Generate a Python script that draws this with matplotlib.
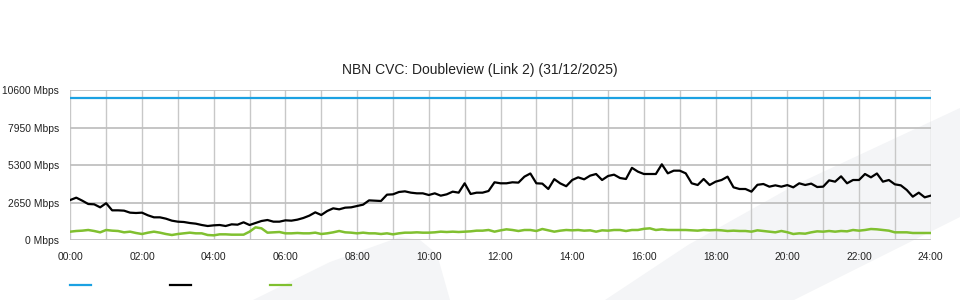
#!/usr/bin/env python3
"""NBN CVC 带宽图 — Doubleview (Link 2)"""
import numpy as np
import matplotlib
matplotlib.use("Agg")
import matplotlib.pyplot as plt
from matplotlib.patches import Polygon
from matplotlib.lines import Line2D

plt.rcParams['font.family'] = ['Liberation Sans', 'DejaVu Sans']

title = "NBN CVC: Doubleview (Link 2) (31/12/2025)"

# 10 分钟一个点, 00:00 → 24:00 (Mbps)
traffic = [
    2827, 2992, 2780, 2544, 2521, 2308, 2600, 2096, 2096, 2073, 1932, 1908,  # 00-02
    1932, 1743, 1602, 1602, 1508, 1366, 1295, 1272, 1201, 1154, 1060, 989,   # 02-04
    1036, 1060, 989, 1107, 1083, 1250, 1060, 1201, 1343, 1413, 1295, 1295,   # 04-06
    1390, 1366, 1437, 1555, 1720, 1955, 1767, 2049, 2238, 2167, 2285, 2308,  # 06-08
    2400, 2497, 2800, 2780, 2756, 3204, 3227, 3392, 3439, 3345, 3298, 3298,  # 08-10
    3180, 3298, 3133, 3227, 3416, 3345, 4007, 3251, 3345, 3345, 3463, 4078,  # 10-12
    4007, 4007, 4078, 4054, 4476, 4700, 4007, 3984, 3604, 4300, 4000, 3800,  # 12-14
    4240, 4428, 4287, 4547, 4664, 4240, 4523, 4617, 4381, 4311, 5100, 4830,  # 14-16
    4664, 4664, 4664, 5350, 4711, 4900, 4900, 4711, 4007, 3887, 4311, 3887,  # 16-18
    4122, 4240, 4476, 3722, 3604, 3604, 3416, 3900, 3957, 3769, 3863, 3769,  # 18-20
    3880, 3722, 4007, 3887, 3984, 3745, 3769, 4217, 4122, 4499, 4007, 4240,  # 20-22
    4240, 4664, 4428, 4700, 4122, 4240, 3934, 3863, 3533, 3062, 3345, 3015,  # 22-24
    3133,
]

traffic_2 = [
    589, 636, 660, 707, 636, 542, 707, 660, 636, 542, 589, 495,
    424, 518, 589, 518, 424, 353, 424, 471, 518, 471, 471, 353,
    330, 400, 400, 377, 377, 377, 589, 895, 824, 518, 542, 565,
    471, 471, 495, 471, 471, 518, 424, 471, 542, 636, 542, 518,
    471, 518, 471, 471, 424, 471, 400, 471, 518, 518, 542, 518,
    518, 542, 589, 565, 589, 565, 589, 612, 660, 660, 707, 589,
    680, 754, 707, 636, 707, 707, 636, 777, 683, 589, 660, 707,
    683, 707, 660, 683, 589, 683, 660, 707, 707, 636, 707, 707,
    790, 824, 707, 754, 707, 707, 707, 707, 683, 660, 707, 683,
    707, 683, 636, 660, 636, 636, 589, 683, 636, 589, 542, 636,
    550, 424, 471, 447, 542, 612, 589, 636, 589, 636, 612, 707,
    660, 707, 777, 754, 707, 660, 542, 542, 542, 495, 495, 495,
    495,
]

capacity_hours = [0, 24]
capacity = [10000, 10000]

y_ticks = [0, 2650, 5300, 7950, 10600]
y_labels = [f"{v} Mbps" for v in y_ticks]
x_ticks = list(range(0, 25, 2))
x_labels = [f"{h:02d}:00" for h in x_ticks]

blue = '#1ba1e2'
black = '#000000'
green = '#80c030'

fig = plt.figure(figsize=(9.6, 3.0), dpi=100)

# ── 背景浅灰斜纹 ─────────────────────────────
bg = '#f4f5f7'
def px(pts):
    return [(x / 960, 1 - y / 300) for x, y in pts]
for pts in [
    [(253, 300), (330, 262), (400, 237), (420, 240), (437, 254), (450, 300)],
    [(605, 300), (688, 245), (795, 185), (960, 108), (960, 217), (794, 300)],
]:
    fig.patches.append(Polygon(px(pts), closed=True, transform=fig.transFigure,
                               facecolor=bg, edgecolor='none', zorder=-5))

ax = fig.add_axes([70.3 / 960, 1 - 240 / 300, 860.4 / 960, 150 / 300])
ax.set_facecolor('none')
ax.set_zorder(2)

hours = np.arange(len(traffic)) * 10 / 60
ax.plot(capacity_hours, capacity, color=blue, lw=1.6, zorder=3)
ax.plot(hours, traffic, color=black, lw=1.6, zorder=3)
ax.plot(hours, traffic_2, color=green, lw=1.8, zorder=3)

ax.set_xlim(0, 24)
ax.set_ylim(0, 10600)
ax.set_xticks(x_ticks)
ax.set_xticklabels(x_labels)
ax.set_xticks(range(0, 25), minor=True)
ax.set_yticks(y_ticks)
ax.set_yticklabels(y_labels)
ax.tick_params(axis='both', which='both', length=0, labelsize=7.4, colors='#222222')
ax.tick_params(axis='x', pad=9)
ax.tick_params(axis='y', pad=8)

ax.grid(True, which='both', axis='x', color='#c8c8c8', lw=1.0, zorder=1)
ax.grid(True, which='major', axis='y', color='#c0c0c0', lw=1.3, zorder=1)
for s in ax.spines.values():
    s.set_visible(False)

fig.text(0.5, 1 - 70 / 300, title, fontsize=10, color='#222222',
         ha='center', va='center')

# ── 图例（无文字）───────────────────────────
for x0, c in [(70, blue), (170, black), (270, green)]:
    fig.add_artist(Line2D([x0 / 960, (x0 + 21) / 960], [1 - 285 / 300] * 2,
                          color=c, lw=1.6, transform=fig.transFigure))

fig.savefig('out.png', dpi=100)
